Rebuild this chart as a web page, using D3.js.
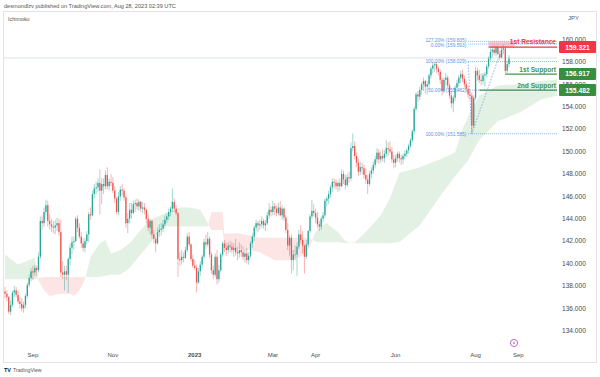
<!DOCTYPE html>
<html>
<head>
<meta charset="utf-8">
<title>EURJPY Ichimoku</title>
<script src="https://cdn.jsdelivr.net/npm/d3@7"></script>
<style>
  body { margin: 0; background: #fff; }
  svg text { font-family: "Liberation Sans", Arial, sans-serif; }
</style>
</head>
<body>
<svg width="600" height="377"></svg>
<script>
// daily bars, [high, low, close]; open = previous close
var firstOpen = 137.5;
var aug22 = [[137.9,136.9,137.3],[137.6,136.6,137.0],[137.1,135.5,135.7],[136.7,135.4,136.3],[137.6,136.1,137.4],[138.0,137.0,137.6],[137.9,137.0,137.2],[137.6,136.4,136.6],[137.0,136.0,136.4],[136.9,135.7,136.0],[136.6,135.6,136.3],[137.3,136.0,137.1],[138.3,136.9,138.1],[139.0,137.9,138.7],[139.6,138.4,139.3]];
var sep22 = [[139.8,138.5,139.2],[139.9,138.9,139.6],[139.8,138.9,139.4],[141.0,139.2,140.6],[144.2,140.4,143.8],[144.3,143.0,143.6],[145.0,143.3,144.6],[145.7,144.3,145.2],[145.6,143.3,143.8],[144.4,143.0,143.5],[144.0,142.8,143.3],[143.8,142.7,143.2],[143.9,142.6,143.4],[144.1,142.9,143.6],[144.0,142.5,142.8],[143.9,138.8,139.2],[140.2,138.6,139.0],[139.8,137.6,139.3],[139.8,138.5,139.0],[140.6,137.4,140.4],[141.8,139.8,141.4],[142.4,140.8,141.9]];
var oct22 = [[142.4,141.2,142.0],[144.2,141.9,144.0],[144.3,142.8,143.2],[143.6,142.2,142.4],[142.8,141.4,141.8],[142.2,141.1,141.4],[142.3,141.0,142.0],[142.9,141.7,142.6],[144.6,141.9,144.4],[145.0,143.9,144.3],[146.5,144.2,146.2],[147.1,145.8,146.7],[147.3,146.2,146.8],[147.6,146.4,147.2],[148.4,144.4,146.5],[147.6,145.3,147.1],[147.6,146.2,146.9],[148.3,146.6,147.9],[148.6,146.6,146.9],[147.6,146.5,147.3],[148.0,146.9,147.2]];
var nov22 = [[147.7,146.3,146.5],[146.9,145.4,145.8],[145.9,144.4,144.6],[146.4,144.3,146.0],[146.9,145.6,146.6],[147.1,146.1,146.5],[146.7,145.6,145.9],[146.1,143.2,143.6],[144.5,142.7,144.0],[145.4,143.6,144.8],[145.4,144.0,144.5],[145.6,144.4,145.3],[145.7,144.6,145.4],[145.8,144.8,145.1],[145.7,144.7,145.5],[145.6,144.6,144.9],[145.5,144.5,145.0],[145.4,144.4,144.8],[144.9,143.6,144.0],[144.4,142.9,143.2],[144.0,142.6,143.8],[143.9,142.2,142.6]];
var dec22 = [[143.0,141.8,142.2],[142.4,141.0,141.8],[143.2,141.7,142.8],[143.5,142.4,143.0],[143.6,142.5,143.1],[143.9,142.8,143.5],[144.3,143.2,143.9],[144.5,143.6,144.2],[144.9,143.9,144.6],[145.1,144.2,144.9],[146.7,144.6,145.5],[145.8,144.6,144.9],[145.2,144.3,144.5],[144.6,138.8,140.4],[141.0,139.8,140.3],[141.2,139.9,140.6],[141.0,140.1,140.5],[141.5,140.4,141.2],[142.7,141.0,142.4],[142.8,141.5,141.7],[141.8,140.2,140.4],[140.8,139.6,139.8]];
var jan23 = [[140.3,139.4,139.6],[139.9,137.4,138.3],[139.6,138.2,139.3],[140.2,138.9,139.9],[140.8,139.6,140.6],[142.2,140.4,141.9],[142.6,141.3,141.7],[142.8,141.5,142.2],[142.4,140.5,140.8],[141.0,139.1,139.4],[139.8,138.6,139.0],[140.9,138.8,140.6],[141.2,138.1,138.6],[139.9,138.3,139.4],[141.0,139.2,140.8],[142.0,140.6,141.8],[142.1,141.0,141.4],[141.8,140.7,141.2],[141.9,140.9,141.6],[142.0,141.0,141.5],[141.9,140.9,141.2],[141.8,140.6,141.4]];
var feb23 = [[142.2,140.7,141.0],[141.5,140.3,140.9],[141.9,140.5,141.2],[141.7,140.6,141.0],[141.5,140.3,140.6],[141.3,140.1,140.9],[141.4,140.0,140.3],[141.0,139.9,140.7],[142.0,140.5,141.8],[142.7,141.4,142.4],[143.4,142.0,143.2],[143.9,142.9,143.6],[143.8,142.8,143.4],[143.9,143.0,143.5],[144.2,143.2,143.8],[144.0,143.1,143.4],[143.9,142.9,143.6],[144.6,143.4,144.3],[145.4,144.0,144.8],[145.1,144.2,144.6]];
var mar23 = [[145.6,144.3,145.1],[145.4,144.3,144.9],[145.2,144.2,144.5],[145.4,144.3,145.0],[145.6,144.2,144.3],[145.2,143.9,144.9],[145.0,143.8,144.1],[144.3,142.7,143.0],[143.6,141.2,141.6],[142.5,140.7,142.3],[142.6,139.1,140.3],[141.2,139.4,140.8],[141.6,140.3,140.8],[141.9,138.9,141.5],[143.0,141.3,142.6],[143.4,141.8,142.1],[142.9,140.9,141.6],[141.7,139.1,140.6],[142.1,140.4,141.7],[143.0,141.5,142.9],[144.4,142.7,144.2],[145.7,144.0,144.7],[145.3,144.2,144.5]];
var apr23 = [[144.9,143.6,144.1],[144.6,143.2,143.5],[143.8,142.9,143.3],[144.2,143.0,144.0],[144.6,143.7,144.3],[145.8,144.1,145.6],[146.0,145.1,145.8],[146.5,145.3,146.2],[147.0,145.9,146.8],[147.6,146.4,147.3],[147.6,146.7,147.2],[147.5,146.6,146.9],[147.4,146.4,147.2],[147.6,146.5,146.9],[148.4,146.8,148.0],[148.3,147.1,147.5],[147.9,146.6,147.0],[148.0,146.8,147.7],[148.2,147.2,147.6],[150.8,147.4,150.3]];
var may23 = [[151.6,150.0,150.5],[150.9,149.3,149.6],[149.9,148.6,149.0],[149.4,147.8,148.2],[149.1,147.9,148.6],[149.0,148.0,148.5],[148.8,147.6,147.9],[148.5,147.1,147.5],[147.9,146.2,147.1],[148.3,146.9,148.0],[148.6,147.6,148.3],[149.1,148.0,148.8],[149.6,148.5,149.3],[150.3,149.0,149.9],[150.2,148.9,149.3],[150.0,149.0,149.6],[150.2,149.1,149.4],[150.1,149.0,149.8],[151.0,149.5,150.3],[150.8,149.6,150.2],[150.9,149.8,150.0],[150.4,149.0,149.3],[149.7,148.5,149.0]];
var jun23 = [[149.7,148.6,149.4],[150.0,149.1,149.8],[150.0,149.0,149.4],[149.7,148.8,149.3],[149.8,148.9,149.6],[150.1,149.3,149.8],[150.3,149.5,150.1],[150.7,149.8,150.5],[151.2,150.3,151.0],[152.0,150.8,151.8],[154.0,151.5,153.8],[155.3,153.6,155.1],[155.4,154.4,154.9],[155.8,154.6,155.5],[156.2,155.1,156.0],[156.6,155.4,156.3],[156.4,155.2,155.8],[156.3,155.1,156.0],[157.0,155.7,156.8],[157.6,156.5,157.4],[158.0,157.0,157.7],[158.0,157.1,157.8]];
var jul23 = [[158.0,157.0,157.4],[157.6,156.8,157.1],[157.3,156.0,156.4],[156.6,155.0,155.4],[156.6,155.2,156.4],[157.0,155.9,156.6],[156.8,155.6,155.9],[156.1,154.7,155.0],[155.4,153.9,154.3],[155.0,153.5,154.8],[155.9,154.5,155.7],[156.4,155.3,156.1],[156.8,155.8,156.6],[157.2,156.1,156.9],[157.3,156.2,156.5],[156.8,155.7,156.0],[156.3,155.3,155.6],[155.9,154.8,155.1],[155.5,154.6,155.0],[155.3,151.6,152.3],[155.0,152.1,154.8]];
var aug23 = [[157.6,154.6,157.2],[157.5,156.3,156.8],[157.3,156.1,156.4],[157.0,155.9,156.3],[157.0,156.0,156.8],[157.1,155.8,156.9],[157.8,156.6,157.6],[158.5,157.4,158.3],[159.2,158.1,158.9],[159.5,158.4,159.1],[159.6,158.6,158.8],[159.5,158.5,159.3],[159.6,158.6,158.7],[159.0,158.2,158.4],[159.4,158.3,159.1],[159.6,158.7,159.2],[159.4,156.9,157.2],[158.1,157.0,157.8],[158.6,157.5,158.3]];

// Ichimoku cloud at these bar positions
var cloudIdx = [0,7,13,16,18,21,24,30,35,37,40,43,46,51,54,57,62,67,73,78,85,94,99,105,109,111,117,118,126,132,137,145,153,159,164,166,169,173,179,183,187,189,195,202,207,212,223,234,242,246,249,255,265,277,288,297];
var spanA = [140.8,139.9,140.3,140.5,138.5,137.6,137.1,137.3,137.3,137.1,137.6,138.6,140.6,141.8,142.1,140.9,141.2,141.8,143.0,143.9,144.4,145.0,145.0,144.8,143.6,143.0,143.0,141.4,141.3,141.2,141.0,140.3,140.3,140.6,141.5,142.5,143.3,143.6,142.8,142.0,141.8,142.0,143.0,144.3,145.8,148.1,148.6,149.3,149.9,152.0,153.1,155.0,155.9,156.0,156.3,156.4];
var spanB = [138.6,138.6,138.6,138.6,138.7,138.8,138.8,138.8,138.8,138.8,138.8,138.8,138.8,138.8,138.9,139.0,139.0,139.6,140.8,141.8,143.3,143.3,143.3,143.3,143.3,144.6,144.6,142.7,142.7,142.5,142.3,142.3,142.3,142.3,142.3,142.0,141.9,141.9,141.9,141.8,141.9,141.8,141.8,141.8,141.8,141.9,143.4,146.0,147.8,148.6,149.2,151.0,152.7,153.5,154.6,155.0];

var priceTicks = [134,136,138,140,142,144,146,148,150,152,154,156,158,160];
var monthTicks = [["Sep",15],["Nov",58],["2023",102],["Mar",144],["Apr",167],["Jun",210],["Aug",253],["Sep",276]];

var fibLevels = [["127.20% (159.835)",159.835],["0.00% (159.593)",159.593],["100.00% (158.029)",158.029],["50.00% (155.482)",155.482],["100.00% (151.585)",151.585]];
var resistance1 = 159.321, support1 = 156.917, support2 = 155.482, lastClose = 158.35;

var svg = d3.select("svg");
var x = d3.scaleLinear().domain([0, 297]).range([5, 557.4]);
var y = d3.scaleLinear().domain([134, 160]).range([330.7, 39.5]);

var bars = [];
var prev = firstOpen;
[aug22, sep22, oct22, nov22, dec22, jan23, feb23, mar23, apr23, may23, jun23, jul23, aug23].forEach(function(m) {
  m.forEach(function(d) {
    bars.push({ i: bars.length, o: prev, h: d[0], l: d[1], c: d[2] });
    prev = d[2];
  });
});

// frame + header
svg.append("rect").attr("x", 3.5).attr("y", 11.5).attr("width", 593).attr("height", 351)
  .attr("fill", "none").attr("stroke", "#e0e3eb");
svg.append("text").attr("x", 4).attr("y", 8).attr("font-size", 5.6).attr("fill", "#555")
  .text("desmondlzv published on TradingView.com, Aug 28, 2023 02:39 UTC");
svg.append("text").attr("x", 8).attr("y", 21).attr("font-size", 5.4).attr("fill", "#555").text("Ichimoku");
svg.append("text").attr("x", 568).attr("y", 20).attr("font-size", 6).attr("fill", "#555").text("JPY");

// cloud
var cloud = cloudIdx.map(function(idx, k) { return { i: idx, a: spanA[k], b: spanB[k] }; });
var defs = svg.append("defs");
defs.append("clipPath").attr("id", "aboveB").append("path")
  .attr("d", d3.area().x(function(d) { return x(d.i); }).y0(0).y1(function(d) { return y(d.b); })(cloud));
defs.append("clipPath").attr("id", "belowB").append("path")
  .attr("d", d3.area().x(function(d) { return x(d.i); }).y0(377).y1(function(d) { return y(d.b); })(cloud));
var cloudArea = d3.area().x(function(d) { return x(d.i); })
  .y0(function(d) { return y(d.b); }).y1(function(d) { return y(d.a); });
svg.append("path").attr("d", cloudArea(cloud)).attr("fill", "#e3f1e4").attr("clip-path", "url(#aboveB)");
svg.append("path").attr("d", cloudArea(cloud)).attr("fill", "#fde5e5").attr("clip-path", "url(#belowB)");

// last price line
svg.append("line").attr("x1", 4).attr("x2", 557).attr("y1", y(lastClose)).attr("y2", y(lastClose))
  .attr("stroke", "#cdd8e0").attr("stroke-width", 0.8);

// candles
var cg = svg.append("g");
cg.selectAll("line").data(bars).enter().append("line")
  .attr("x1", function(d) { return x(d.i); }).attr("x2", function(d) { return x(d.i); })
  .attr("y1", function(d) { return y(Math.max(d.h, d.o, d.c)); })
  .attr("y2", function(d) { return y(Math.min(d.l, d.o, d.c)); })
  .attr("stroke", function(d) { return d.c >= d.o ? "#26a69a" : "#ef5350"; })
  .attr("stroke-opacity", 0.55).attr("stroke-width", 0.8);
cg.selectAll("rect").data(bars).enter().append("rect")
  .attr("x", function(d) { return x(d.i) - 0.65; }).attr("width", 1.3)
  .attr("y", function(d) { return y(Math.max(d.o, d.c)); })
  .attr("height", function(d) { return Math.max(0.6, Math.abs(y(d.o) - y(d.c))); })
  .attr("fill", function(d) { return d.c >= d.o ? "#26a69a" : "#ef5350"; });

// fib
var fibColor = "#5b93e6";
fibLevels.forEach(function(f) {
  svg.append("line").attr("x1", x(249)).attr("x2", 557).attr("y1", y(f[1])).attr("y2", y(f[1]))
    .attr("stroke", fibColor).attr("stroke-width", 0.7).attr("stroke-dasharray", "1,1");
});
fibLevels.forEach(function(f, k) {
  svg.append("text").attr("x", x(248)).attr("y", y(f[1]) + (k === 0 ? 0.4 : k === 1 ? 3 : 1.8)).attr("text-anchor", "end")
    .attr("font-size", 4.8).attr("fill", fibColor).text(f[0]);
});
svg.append("path").attr("d", d3.line()([[x(249), y(158.029)], [x(251), y(151.585)], [x(268), y(159.593)]]))
  .attr("fill", "none").attr("stroke", fibColor).attr("stroke-width", 0.7).attr("stroke-dasharray", "1.5,1.5");

// resistance / supports
svg.append("rect").attr("x", x(260)).attr("y", y(159.835)).attr("width", x(274) - x(260))
  .attr("height", y(resistance1) - y(159.835)).attr("fill", "#f7a1a8").attr("opacity", 0.6);
svg.append("line").attr("x1", x(260)).attr("x2", 557).attr("y1", y(resistance1)).attr("y2", y(resistance1))
  .attr("stroke", "#f23645").attr("stroke-width", 1.2);
svg.append("line").attr("x1", x(269)).attr("x2", 557).attr("y1", y(support1)).attr("y2", y(support1))
  .attr("stroke", "#43964a").attr("stroke-width", 1.2);
svg.append("line").attr("x1", x(255)).attr("x2", 557).attr("y1", y(support2)).attr("y2", y(support2))
  .attr("stroke", "#43964a").attr("stroke-width", 1.2);
svg.append("text").attr("x", 556).attr("y", y(159.835) + 3).attr("text-anchor", "end").attr("font-size", 6.6)
  .attr("font-weight", "bold").attr("fill", "#f23645").text("1st Resistance");
svg.append("text").attr("x", 556).attr("y", y(support1) - 2.5).attr("text-anchor", "end").attr("font-size", 6.6)
  .attr("font-weight", "bold").attr("fill", "#43964a").text("1st Support");
svg.append("text").attr("x", 556).attr("y", y(support2) - 2.5).attr("text-anchor", "end").attr("font-size", 6.6)
  .attr("font-weight", "bold").attr("fill", "#43964a").text("2nd Support");

// price axis
svg.selectAll(".pt").data(priceTicks).enter().append("text").attr("class", "pt")
  .attr("x", 562).attr("y", function(d) { return y(d) + 2.3; })
  .attr("font-size", 6.6).attr("fill", "#4a4a4a").text(function(d) { return d.toFixed(3); });
[[resistance1, "#f23645"], [support1, "#388e3c"], [support2, "#388e3c"]].forEach(function(p) {
  svg.append("rect").attr("x", 559).attr("y", y(p[0]) - 6).attr("width", 37).attr("height", 12)
    .attr("rx", 1).attr("fill", p[1]);
  svg.append("text").attr("x", 577.5).attr("y", y(p[0]) + 2.4).attr("text-anchor", "middle")
    .attr("font-size", 6.8).attr("font-weight", "bold").attr("fill", "#fff").text(p[0].toFixed(3));
});

// time axis
svg.selectAll(".mt").data(monthTicks).enter().append("text").attr("class", "mt")
  .attr("x", function(d) { return x(d[1]); }).attr("y", 357).attr("text-anchor", "middle")
  .attr("font-size", 6).attr("fill", "#4a4a4a").attr("font-weight", function(d) { return d[0] === "2023" ? "bold" : "normal"; })
  .text(function(d) { return d[0]; });
svg.append("circle").attr("cx", 514).attr("cy", 343).attr("r", 3.6).attr("fill", "#fff")
  .attr("stroke", "#ab47bc").attr("stroke-width", 0.8);
svg.append("path").attr("d", "M514.6,340.6 L512.8,343.4 L514.3,343.4 L513.5,345.6 L515.3,342.6 L513.8,342.6 Z").attr("fill", "#ab47bc");

// footer
svg.append("text").attr("x", 4).attr("y", 372).attr("font-size", 5.5).attr("font-weight", "bold").attr("fill", "#131722").text("TV");
svg.append("text").attr("x", 13).attr("y", 372).attr("font-size", 5.2).attr("fill", "#555").text("TradingView");
</script>
</body>
</html>
